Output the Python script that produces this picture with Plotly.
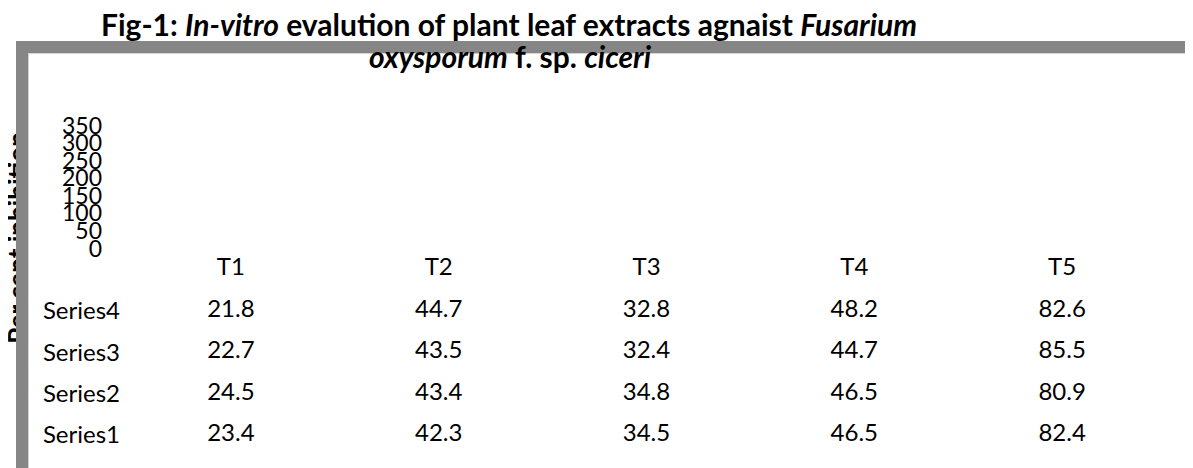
import plotly.graph_objects as go

W, H = 1193, 468
OFF = 8  # page body margin offset of the plot in the browser

# ---- data ----
treatments = ["T1", "T2", "T3", "T4", "T5"]
series_names = ["Series1", "Series2", "Series3", "Series4"]
series1 = [23.4, 42.3, 34.5, 46.5, 82.4]
series2 = [24.5, 43.4, 34.8, 46.5, 80.9]
series3 = [22.7, 43.5, 32.4, 44.7, 85.5]
series4 = [21.8, 44.7, 32.8, 48.2, 82.6]
series_values = [series1, series2, series3, series4]
y_ticks = [0, 50, 100, 150, 200, 250, 300, 350]

FONT = "Lato, 'Open Sans', sans-serif"
FS = 24


def px(x):
    return (x - OFF) / W


def py(y):
    return 1 - (y - OFF) / H


fig = go.Figure()

# empty trace keeps the value axis drawn (the chart shows no visible bars)
fig.add_trace(go.Scatter(x=[None], y=[None], mode="markers", hoverinfo="skip",
                         showlegend=False, xaxis="x", yaxis="y"))

# data table values, placed through category axes
xs, ys, txt = [], [], []
for name, vals in zip(series_names, series_values):
    for t, v in zip(treatments, vals):
        xs.append(t)
        ys.append(name)
        txt.append(f"{v:.1f}")
fig.add_trace(go.Scatter(
    x=xs, y=ys, text=txt, mode="text", xaxis="x2", yaxis="y2",
    textfont=dict(family=FONT, size=FS, color="black"),
    textposition="middle center", hoverinfo="skip", showlegend=False,
))

fig.update_layout(
    width=W, height=H,
    paper_bgcolor="white", plot_bgcolor="white",
    margin=dict(l=0, r=0, t=0, b=0),
    showlegend=False,
    xaxis=dict(domain=[px(103), 1], visible=False, range=[0, 1], fixedrange=True),
    yaxis=dict(
        domain=[py(248.5), py(125.5)], range=[0, 350], tickvals=y_ticks,
        ticktext=[str(v) for v in y_ticks],
        showgrid=False, zeroline=False, showline=False, ticks="",
        tickfont=dict(family=FONT, size=23, color="black"), automargin=False,
    ),
    xaxis2=dict(
        domain=[px(127), px(1166)], type="category", categoryarray=treatments,
        categoryorder="array", range=[-0.5, 4.5], anchor="y2", side="top",
        showgrid=False, zeroline=False, showline=False, ticks="",
        tickfont=dict(family=FONT, size=FS, color="black"), automargin=False,
        ticklabelstandoff=9,
    ),
    yaxis2=dict(
        domain=[py(455.6), py(290.2)], type="category", categoryarray=series_names,
        categoryorder="array", range=[-0.5, 3.5], anchor="x2",
        showgrid=False, zeroline=False, showline=False, ticks="",
        tickfont=dict(family=FONT, size=FS, color="black"), automargin=False,
        ticklabelstandoff=6,
    ),
)

# two-line centred title
fig.add_annotation(
    text="<b>Fig-1: <i>In-vitro</i> evalution of plant leaf extracts agnaist <i>Fusarium</i></b>",
    xref="paper", yref="paper", x=px(509), y=py(24), xanchor="center", yanchor="middle",
    showarrow=False, font=dict(family=FONT, size=30, color="black"),
)
fig.add_annotation(
    text="<b><i>oxysporum</i> f. sp. <i>ciceri</i></b>",
    xref="paper", yref="paper", x=px(510), y=py(56), xanchor="center", yanchor="middle",
    showarrow=False, font=dict(family=FONT, size=30, color="black"),
)

# y-axis title as a shape label, so the chart-area border can overlap it
fig.add_shape(
    type="rect", xref="paper", yref="paper",
    x0=px(4.7), x1=px(28.7), y0=py(343), y1=py(133),
    line=dict(width=0), fillcolor="rgba(0,0,0,0)", layer="above",
    label=dict(text="Per cent inhibition", textangle=-90, textposition="middle center",
               font=dict(family=FONT, size=26, color="black", weight="bold")),
)

# gray chart-area border (cropped on right and bottom)
border = "#868686"
fig.add_shape(type="rect", xref="paper", yref="paper",
              x0=px(16), x1=px(28), y0=py(H + 20), y1=py(41),
              line=dict(width=0), fillcolor=border, layer="above")
fig.add_shape(type="rect", xref="paper", yref="paper",
              x0=px(16), x1=px(W + 20), y0=py(53), y1=py(41),
              line=dict(width=0), fillcolor=border, layer="above")
fig.add_shape(type="line", xref="paper", yref="paper",
              x0=px(28.5), x1=px(28.5), y0=py(53), y1=py(H + 20),
              line=dict(width=1, color="#d4d4d4"), layer="above")
fig.add_shape(type="line", xref="paper", yref="paper",
              x0=px(28.5), x1=px(W + 20), y0=py(53.5), y1=py(53.5),
              line=dict(width=1, color="#d4d4d4"), layer="above")

fig.write_html("out.html")
